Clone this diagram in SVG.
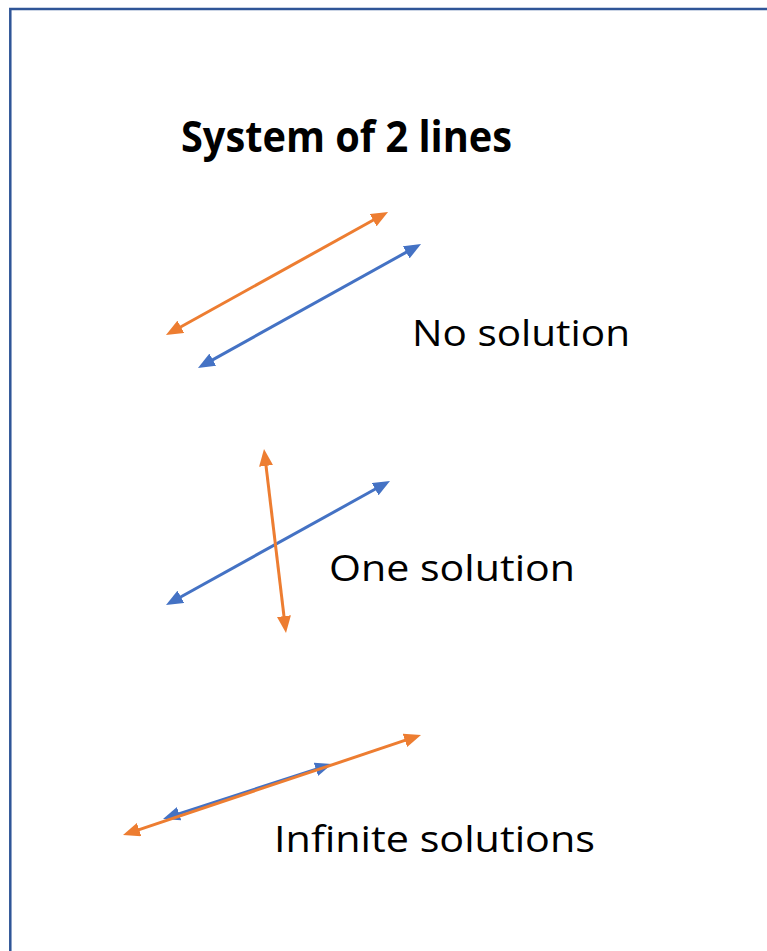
<svg xmlns="http://www.w3.org/2000/svg" width="767" height="951" viewBox="0 0 767 951">
<style>
.t{font-family:"Open Sans","Liberation Sans",sans-serif;fill:#000}
.o{stroke:#ED7D31;stroke-width:3;fill:none;marker-start:url(#ao);marker-end:url(#ao)}
.b{stroke:#4472C4;stroke-width:3;fill:none;marker-start:url(#ab);marker-end:url(#ab)}
</style>
<defs>
<marker id="ao" markerUnits="userSpaceOnUse" markerWidth="17" markerHeight="14" refX="7" refY="7" orient="auto-start-reverse" viewBox="0 0 17 14"><path d="M0,0 L17,7 L0,14 z" fill="#ED7D31"/></marker>
<marker id="ab" markerUnits="userSpaceOnUse" markerWidth="17" markerHeight="14" refX="7" refY="7" orient="auto-start-reverse" viewBox="0 0 17 14"><path d="M0,0 L17,7 L0,14 z" fill="#4472C4"/></marker>
</defs>
<rect x="0" y="0" width="767" height="951" fill="#fff"/>
<rect x="10.3" y="9" width="800" height="1000" fill="none" stroke="#2F5597" stroke-width="2.5"/>
<g id="title"><text class="t" x="181" y="152" font-size="43" font-weight="bold" textLength="331" lengthAdjust="spacingAndGlyphs">System of 2 lines</text></g>
<g id="labels">
<text class="t" x="412" y="346" font-size="37" textLength="218" lengthAdjust="spacingAndGlyphs">No solution</text>
<text class="t" x="329" y="581" font-size="37" textLength="246" lengthAdjust="spacingAndGlyphs">One solution</text>
<text class="t" x="274" y="852" font-size="37" textLength="321" lengthAdjust="spacingAndGlyphs">Infinite solutions</text>
</g>
<g id="connectors">
<path class="o" d="M174.7,330.2 L379.3,216.8"/>
<path class="b" d="M206.7,363.1 L412.3,248.9"/>
<path class="b" d="M174.75,600.2 L381.25,485.8"/>
<path class="o" d="M265.2,458.9 L284.8,623.1"/>
<path class="b" d="M172.5,815.9 L322.5,767.1"/>
<path class="o" d="M132.5,831.8 L411.5,738.2"/>
</g>
</svg>
